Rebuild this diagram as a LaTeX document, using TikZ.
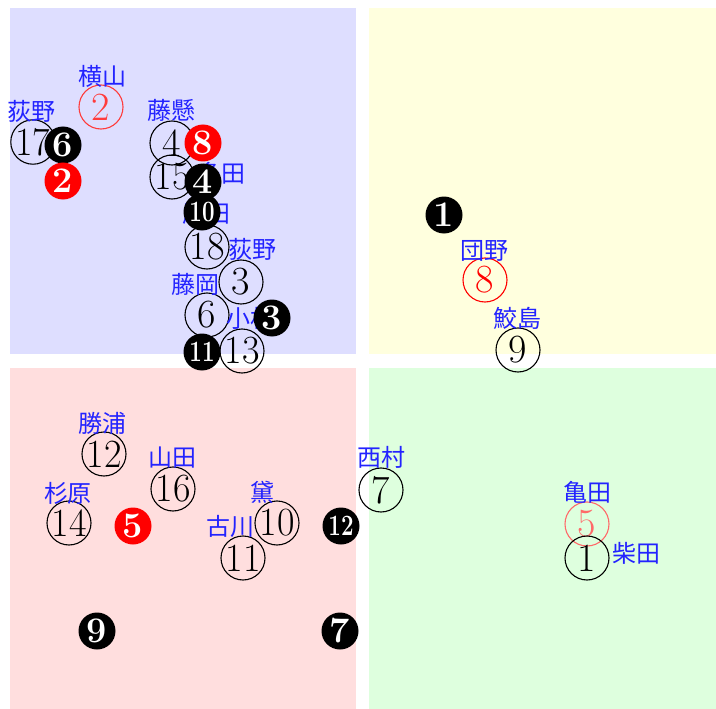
\documentclass[tikz,border=0pt]{standalone}
\usepackage{fontspec}
\usepackage{graphicx}
\newfontfamily\cjk{Noto Sans CJK JP}
\definecolor{lblblue}{RGB}{35,35,255}
\definecolor{qblue}{RGB}{222,222,255}
\definecolor{qyellow}{RGB}{255,255,222}
\definecolor{qpink}{RGB}{255,222,222}
\definecolor{qgreen}{RGB}{222,255,222}
\definecolor{redA}{RGB}{255,60,60}
\definecolor{redB}{RGB}{255,105,105}
\tikzset{
  opencirc/.style={circle, draw, line width=1.1pt, minimum size=44pt, inner sep=0pt, font=\fontsize{40}{40}\selectfont},
  blackcirc/.style={circle, fill=black, text=white, minimum size=37pt, inner sep=0pt, font=\bfseries\fontsize{36}{36}\selectfont},
  redcirc/.style={blackcirc, fill=red},
  lbl/.style={text=lblblue, font=\cjk\fontsize{24}{24}\selectfont, inner sep=0pt},
}
\newcommand{\twod}[1]{\scalebox{0.95}[1]{#1}}
\newcommand{\twob}[1]{\scalebox{0.62}[0.82]{#1}}
\begin{document}
\begin{tikzpicture}[x=1pt,y=-1pt]
\useasboundingbox (0,0) rectangle (716,709);
% quadrants
\fill[qblue] (10,8) rectangle (356,354);
\fill[qyellow] (369,8) rectangle (716,354);
\fill[qpink] (10,368) rectangle (356,709);
\fill[qgreen] (369,368) rectangle (716,709);

% open circles
\node[opencirc, draw=redA, text=redA] (c2) at (101,107) {2};
\node[opencirc] (c17) at (33,142) {\twod{17}};
\node[opencirc] (c4) at (172,143) {4};
\node[opencirc] (c15) at (172,177) {\twod{15}};
\node[opencirc] (c18) at (207,247) {\twod{18}};
\node[opencirc] (c3) at (241,282) {3};
\node[opencirc] (c6) at (207,315) {6};
\node[opencirc] (c13) at (242,351) {\twod{13}};
\node[opencirc, draw=red, text=red] (c8) at (485,280) {8};
\node[opencirc] (c9) at (518,350) {9};
\node[opencirc] (c12) at (104,454) {\twod{12}};
\node[opencirc] (c16) at (173,489) {\twod{16}};
\node[opencirc] (c14) at (69,523) {\twod{14}};
\node[opencirc] (c10) at (277,523) {\twod{10}};
\node[opencirc] (c11) at (243,558) {\twod{11}};
\node[opencirc] (c7) at (381,490) {7};
\node[opencirc, draw=redB, text=redB] (c5) at (587,524) {5};
\node[opencirc] (c1) at (587,558) {1};

% labels
\node[lbl] (l1) at (102,76) {横山};
\node[lbl] (l2) at (32,111) {荻野};
\node[lbl] (l3) at (171,110) {藤懸};
\node[lbl] (l4) at (221,173) {多田};
\node[lbl] (l5) at (206,214) {原田};
\node[lbl] (l6) at (252,249) {荻野};
\node[lbl] (l7) at (195,284) {藤岡};
\node[lbl] (l8) at (250,318) {小杉};
\node[lbl] (l9) at (484,251) {団野};
\node[lbl] (l10) at (517,318) {鮫島};
\node[lbl] (l11) at (102,423) {勝浦};
\node[lbl] (l12) at (172,458) {山田};
\node[lbl] (l13) at (68,493) {杉原};
\node[lbl] (l14) at (262,492) {黛};
\node[lbl] (l15) at (230,526) {古川};
\node[lbl] (l16) at (381,457) {西村};
\node[lbl] (l17) at (587,492) {亀田};
\node[lbl] (l18) at (636,553) {柴田};

% filled circles
\node[blackcirc] (b6) at (63,145) {6};
\node[redcirc] (r2) at (63,181) {2};
\node[redcirc] (r8) at (203,143) {8};
\node[blackcirc] (b4) at (203,182) {4};
\node[blackcirc] (b10) at (202,212) {\twob{10}};
\node[blackcirc] (b3) at (272,318) {3};
\node[blackcirc] (b11) at (202,352) {\twob{11}};
\node[blackcirc] (b1) at (444,215) {1};
\node[redcirc] (r5) at (133,526) {5};
\node[blackcirc] (b12) at (341,526) {\twob{12}};
\node[blackcirc] (b9) at (97,631) {9};
\node[blackcirc] (b7) at (340,631) {7};
\end{tikzpicture}
\end{document}
